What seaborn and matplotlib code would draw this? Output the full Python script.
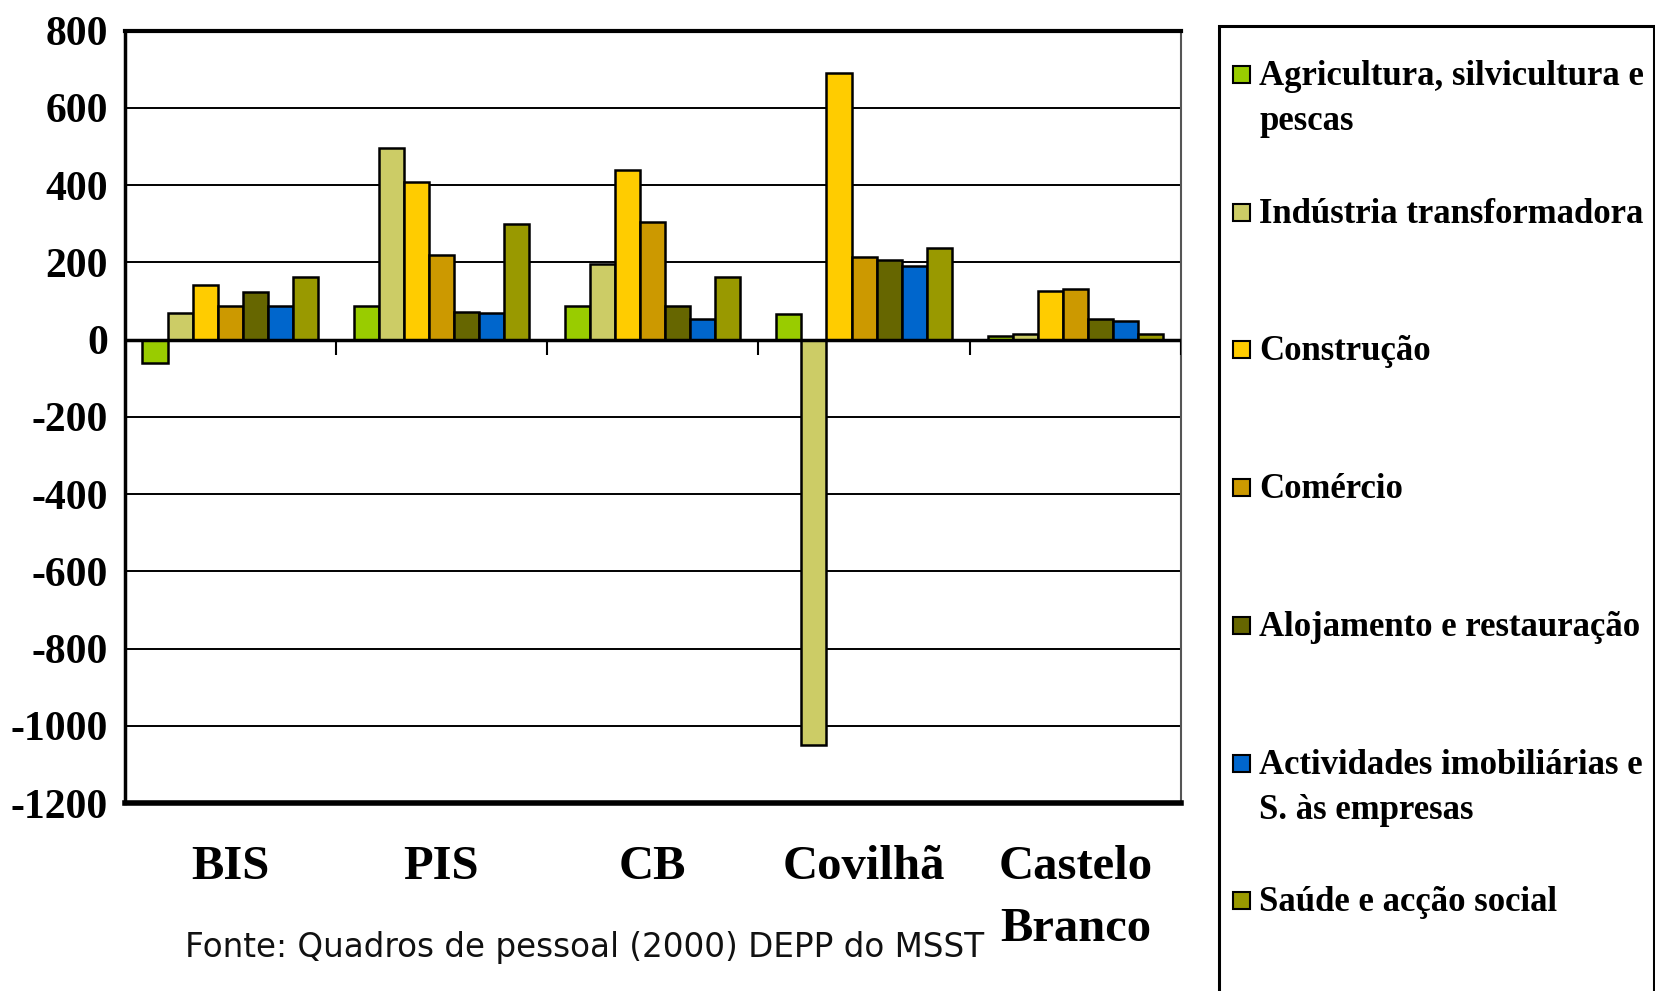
import numpy as np
import pandas as pd
import matplotlib
matplotlib.use('Agg')
import matplotlib.pyplot as plt
from matplotlib.patches import Rectangle
import seaborn as sns

# Data
regions = ["BIS", "PIS", "CB", "Covilhã", "Castelo\nBranco"]
sectors = [
    "Agricultura, silvicultura e\npescas",
    "Indústria transformadora",
    "Construção",
    "Comércio",
    "Alojamento e restauração",
    "Actividades imobiliárias e\nS. às empresas",
    "Saúde e acção social",
]
agricultura = [-60, 88, 88, 66, 8]
industria = [68, 496, 196, -1050, 14]
construcao = [141, 408, 440, 690, 127]
comercio = [88, 218, 304, 213, 132]
alojamento = [122, 71, 88, 206, 54]
actividades = [88, 68, 53, 190, 47]
saude = [162, 300, 161, 237, 15]
yticks = [800, 600, 400, 200, 0, -200, -400, -600, -800, -1000, -1200]

colors = ["#99CC00", "#CCCC66", "#FFCC00", "#CC9900", "#666600", "#0066CC", "#999900"]
series = [agricultura, industria, construcao, comercio, alojamento, actividades, saude]

df = pd.DataFrame({
    "region": regions * len(sectors),
    "sector": [s for s in sectors for _ in regions],
    "value": [v for vals in series for v in vals],
})

sns.set_style("white")
plt.rcParams['font.family'] = ['Liberation Serif', 'DejaVu Serif']
plt.rcParams['text.color'] = 'black'
plt.rcParams['xtick.color'] = 'black'
plt.rcParams['ytick.color'] = 'black'

fig = plt.figure(figsize=(16.55, 9.91), dpi=100)
ax = fig.add_axes([124.5 / 1655, 1 - 803 / 991, (1181 - 124.5) / 1655, (803 - 30.6) / 991])

sns.barplot(
    data=df, x="region", y="value", hue="sector",
    order=regions, hue_order=sectors, palette=colors, saturation=1,
    width=0.83, gap=0, edgecolor="black", linewidth=1.8,
    legend=False, ax=ax, zorder=3,
)

ax.set_xlim(-0.5, len(regions) - 0.5)
ax.set_ylim(-1200, 800)
ax.set_yticks(yticks)
ax.set_yticklabels([str(t) for t in yticks], fontsize=30, fontweight='bold')
ax.set_xlabel("")
ax.set_ylabel("")

# gridlines
for t in yticks:
    ax.axhline(t, color="black", lw=1.4, zorder=1)
ax.axhline(0, color="black", lw=2.5, zorder=4)

# category boundary ticks at the zero line
bounds = np.arange(len(regions) + 1) - 0.5
ax.vlines(bounds[1:], -40, 0, color="black", lw=1.5, zorder=4)

# x axis: labels centred, ticks at boundaries
ax.set_xticks(bounds, minor=True)
ax.set_xticks(range(len(regions)))
ax.set_xticklabels(regions, fontsize=35, fontweight='bold', linespacing=1.55, va='top')
ax.tick_params(axis='x', which='major', length=0, pad=30)
ax.tick_params(axis='x', which='minor', length=15, width=1.5, color="black", direction='out')
ax.tick_params(axis='y', length=8, width=1.2, color="black", direction='out', pad=4)

for side in ["left", "top", "bottom"]:
    ax.spines[side].set_color("black")
ax.spines["left"].set_linewidth(2.5)
ax.spines["top"].set_linewidth(3)
ax.spines["bottom"].set_linewidth(4)
ax.spines["right"].set_color("#555555")
ax.spines["right"].set_linewidth(1.5)

# source note
fig.text(185 / 1655, 1 - 947 / 991, "Fonte: Quadros de pessoal (2000) DEPP do MSST",
         family="DejaVu Sans", fontsize=23.5, va="center", ha="left", color="#111111")

# legend box
fig.patches.append(Rectangle((1219 / 1655, -0.05), (1654 - 1219) / 1655, 1.05 - 26 / 991,
                             transform=fig.transFigure, fill=False, edgecolor="black",
                             lw=2.2, clip_on=False))
for i, (label, col) in enumerate(zip(sectors, colors)):
    yc = 74 + i * 137.7
    fig.patches.append(Rectangle((1233 / 1655, 1 - (yc + 9) / 991), 17 / 1655, 17 / 991,
                                 transform=fig.transFigure, facecolor=col,
                                 edgecolor="black", lw=1.5))
    fig.text(1259 / 1655, 1 - (yc - 14) / 991, label, fontsize=25, fontweight='bold',
             va="top", ha="left", linespacing=1.5)

fig.savefig("out.png", dpi=100)
